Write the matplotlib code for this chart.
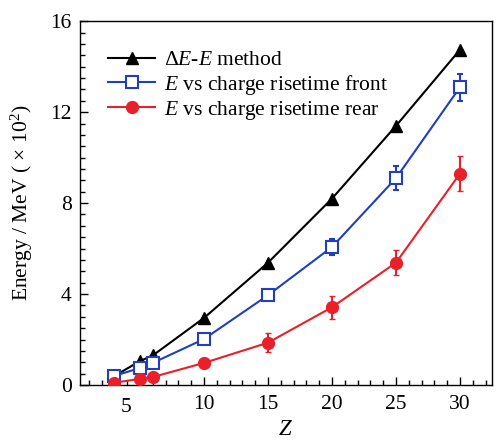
import numpy as np
import matplotlib.pyplot as plt
import matplotlib.transforms as mtransforms
from matplotlib.lines import Line2D
from matplotlib.ticker import MultipleLocator

plt.rcParams['font.family'] = ['Liberation Serif', 'DejaVu Serif']
plt.rcParams['mathtext.fontset'] = 'custom'
plt.rcParams['mathtext.rm'] = 'Liberation Serif'
plt.rcParams['mathtext.it'] = 'Liberation Serif:italic'

# data (Z position)
z = [3, 5, 6, 10, 15, 20, 25, 30]
e_dee = [0.40, 1.05, 1.30, 2.95, 5.38, 8.20, 11.40, 14.75]
e_front = [0.40, 0.75, 0.97, 2.02, 3.95, 6.07, 9.10, 13.10]
err_front = [0, 0, 0, 0, 0.15, 0.35, 0.52, 0.60]
e_rear = [0.10, 0.27, 0.35, 0.97, 1.86, 3.42, 5.38, 9.30]
err_rear = [0, 0, 0, 0, 0.42, 0.50, 0.55, 0.75]

xtick_vals = [10, 15, 20, 25, 30]
labels = [r'$\Delta E$-$E$ method', r'$E$ vs charge risetime front', r'$E$ vs charge risetime rear']

c_blue = '#1f3fbf'
c_red = '#e8202a'

fig = plt.figure(figsize=(4.96, 4.42), dpi=100)
ax = fig.add_axes([0.161, 0.129, 0.831, 0.823])

ax.plot(z, e_dee, color='black', lw=1.5, marker='^', ms=8, zorder=3)
ax.errorbar(z, e_front, yerr=err_front, color=c_blue, lw=1.5, marker='s', ms=8,
            mfc='white', mew=1.5, capsize=2.5, elinewidth=1.5, zorder=4)
ax.errorbar(z, e_rear, yerr=err_rear, color=c_red, lw=1.5, marker='o', ms=8.5,
            capsize=2.5, elinewidth=1.5, zorder=5)

ax.set_xlim(0.3, 32.5)
ax.set_ylim(0, 16)
ax.set_xticks([5] + xtick_vals, [''] + [str(v) for v in xtick_vals])
ax.xaxis.set_minor_locator(MultipleLocator(1))
ax.set_yticks([0, 4, 8, 12, 16])
ax.yaxis.set_minor_locator(MultipleLocator(0.5))
ax.tick_params(which='both', direction='in', top=False, right=False, labelsize=15.5, width=1)
ax.tick_params(which='major', length=6)
ax.tick_params(which='minor', length=3.5)
ax.tick_params(axis='x', pad=7)
ax.tick_params(axis='y', pad=6)
for s in ax.spines.values():
    s.set_linewidth(1)

# the "5" label sits left of its tick in the original
trans = mtransforms.blended_transform_factory(ax.transData, ax.transAxes)
ax.text(3.9, -0.0345, '5', transform=trans, ha='center', va='top', fontsize=15.5)

ax.set_xlabel(r'$Z$', fontsize=16.5, labelpad=4)
ax.set_ylabel(r'Energy / MeV ( $\times$ 10$^2$)', fontsize=15.5, labelpad=11)

handles = [
    Line2D([], [], color='black', lw=1.5, marker='^', ms=8),
    Line2D([], [], color=c_blue, lw=1.5, marker='s', ms=8, mfc='white', mew=1.5),
    Line2D([], [], color=c_red, lw=1.5, marker='o', ms=8.5),
]
ax.legend(handles, labels, loc='upper left', bbox_to_anchor=(0.068, 0.92), frameon=False,
          fontsize=15.5, handlelength=2.2, handletextpad=0.4, labelspacing=0.1,
          borderaxespad=0.0, borderpad=0.0)

fig.savefig('out.png', dpi=100)
